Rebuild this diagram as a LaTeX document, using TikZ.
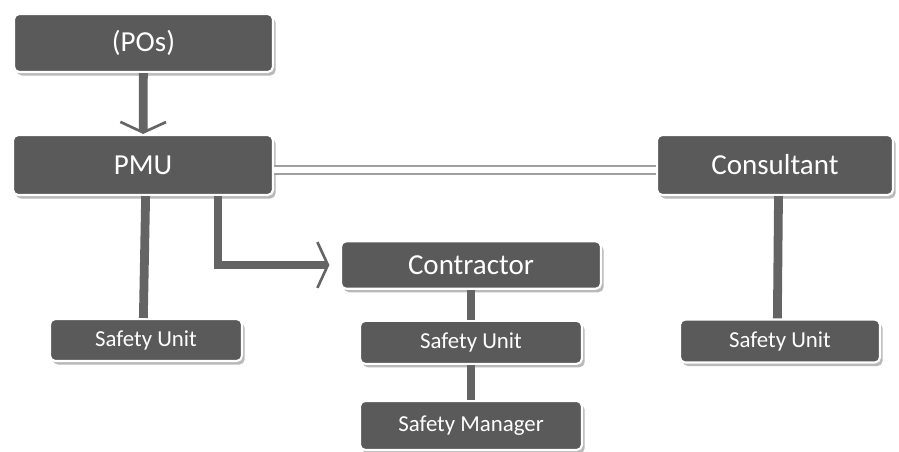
\documentclass[tikz,border=0pt]{standalone}
\usepackage{fontspec}
\setmainfont{Carlito}
\usepackage{tikz}
\usetikzlibrary{arrows.meta}
\usetikzlibrary{positioning}
\usetikzlibrary{shadows}
\definecolor{boxgray}{RGB}{90,90,90}
\definecolor{bargray}{RGB}{100,100,100}
\tikzstyle{unit} = [rectangle, rounded corners=3pt, fill=boxgray, draw=white, line width=1.2pt, text=white, drop shadow={shadow xshift=1.5pt, shadow yshift=-2pt, fill=gray!55, opacity=1}]
\tikzstyle{bigunit} = [unit, font=\fontsize{16.5}{18}\selectfont]
\tikzstyle{smallunit} = [unit, font=\fontsize{13}{15}\selectfont]
\tikzstyle{bar} = [draw=bargray, line width=5pt]
\tikzstyle{barrow} = [bar, -{Straight Barb[length=6pt,width=26pt,line width=1.5pt]}]
\tikzstyle{dline} = [draw=gray!75, line width=1pt, double=white, double distance=3.5pt]

\begin{document}
\begin{tikzpicture}
            \useasboundingbox (0,0) rectangle (17.98,9.02);
            \node (pos) [bigunit, minimum width=5.18cm, minimum height=1.16cm] at (2.87,8.16) {(POs)};
            \node (pmu) [bigunit, minimum width=5.2cm, minimum height=1.2cm] at (2.86,5.72) {PMU};
            \node (consultant) [bigunit, minimum width=4.72cm, minimum height=1.2cm] at (15.5,5.72) {Consultant};
            \node (contractor) [bigunit, minimum width=5.2cm, minimum height=0.95cm] at (9.42,3.72) {Contractor};
            \node (pmusafety) [smallunit, minimum width=3.84cm, minimum height=0.84cm] at (2.92,2.22) {Safety Unit};
            \node (consafety) [smallunit, minimum width=4.44cm, minimum height=0.86cm, below=0.6cm of contractor] {Safety Unit};
            \node (manager) [smallunit, minimum width=4.44cm, minimum height=0.98cm, below=0.7cm of consafety] {Safety Manager};
            \node (cstsafety) [smallunit, minimum width=4.0cm, minimum height=0.86cm] at (15.6,2.2) {Safety Unit};

            \draw [barrow] (pos) -- (pmu);
            \draw [dline] ([yshift=-3pt]pmu.east) -- ([yshift=-3pt]consultant.west);
            \draw [bar] ([xshift=1.5pt]pmu.south) -- ([xshift=-1.5pt]pmusafety.north);
            \draw [barrow, shorten >=6pt] ([xshift=1.5cm]pmu.south) |- (contractor.west);
            \draw [bar] (contractor) -- (consafety);
            \draw [bar] (consafety) -- (manager);
            \draw [bar] ([xshift=2pt]consultant.south) -- ([xshift=-1.5pt]cstsafety.north);
\end{tikzpicture}
\end{document}
